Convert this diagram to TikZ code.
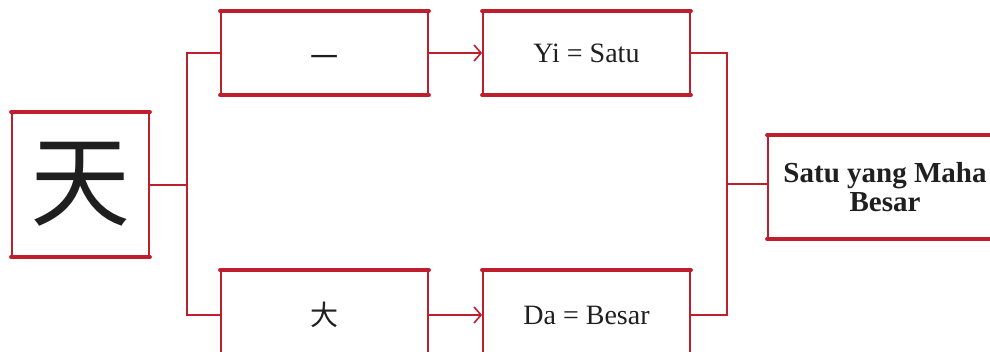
\documentclass[tikz,border=0pt]{standalone}
\usepackage{fontspec}
\setmainfont{Liberation Serif}
\newfontfamily\cjk{Noto Sans CJK SC}
\usetikzlibrary{arrows.meta}
\definecolor{inkred}{HTML}{BF1E2D}

\begin{document}
\begin{tikzpicture}[x=1pt,y=-1pt]
\tikzstyle{box} = [draw=inkred, line width=1.8pt, inner sep=0pt, align=center, text=black!88]
\tikzstyle{hanzi} = [font=\cjk\fontsize{28}{28}\selectfont, text height=24.6pt, text depth=3.4pt]
\tikzstyle{edge} = [draw=inkred, line width=2pt]
\tikzstyle{arrow} = [edge, -{Straight Barb[length=7pt,width=16pt,line width=1.6pt]}]
\tikzstyle{rim} = [draw=inkred, line width=4pt, line cap=round]

\useasboundingbox (0,0) rectangle (990,351);

\node[box, minimum width=137pt, minimum height=143pt, font=\cjk\fontsize{100}{100}\selectfont] (tian) at (80.5,184.5) {天};
\node[box, hanzi, text height=30pt, text depth=0.8pt, minimum width=207pt, minimum height=82pt] (yi) at (324.5,53) {一};
\node[box, minimum width=207pt, minimum height=82pt, font=\fontsize{28}{28}\selectfont] (yisatu) at (586.5,53) {Yi = Satu};
\node[box, hanzi, minimum width=207pt, minimum height=88pt] (da) at (324.5,315) {大};
\node[box, minimum width=207pt, minimum height=88pt, font=\fontsize{28}{28}\selectfont] (dabesar) at (586.5,315) {Da = Besar};
\node[box, minimum width=234pt, minimum height=102pt, font=\bfseries\fontsize{29}{29}\selectfont] (final) at (885,187) {Satu yang Maha\\Besar};

% thick top and bottom strokes
\foreach \n in {tian,yi,yisatu,da,dabesar,final} {
  \draw[rim] (\n.north west) -- (\n.north east);
  \draw[rim] (\n.south west) -- (\n.south east);
}

\draw[edge] (tian.east) -- ++(37,0) coordinate (split);
\draw[edge] (yi.west) -| (split) |- (da.west);
\draw[arrow] (yi) -- (yisatu);
\draw[arrow] (da) -- (dabesar);
\draw[edge] ([yshift=3pt]final.west) -- ++(-40,0) coordinate (join);
\draw[edge] (yisatu.east) -| (join) |- (dabesar.east);
\end{tikzpicture}
\end{document}
